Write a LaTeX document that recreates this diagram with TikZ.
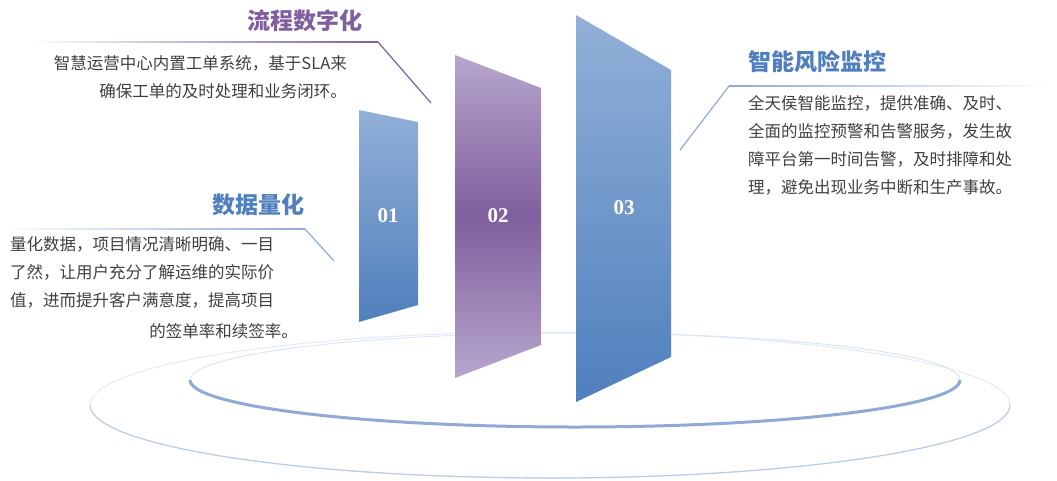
\documentclass[tikz,border=0pt]{standalone}
\usepackage{fontspec}
\setmainfont{Noto Sans CJK SC}
\newfontfamily\numfont{Liberation Serif}
\definecolor{bl}{HTML}{4F7FBD}
\definecolor{blL}{HTML}{92B0D8}
\definecolor{pu}{HTML}{7F5F9E}
\definecolor{puL}{HTML}{B6A6CC}
\definecolor{ring}{HTML}{8FAAD6}
\definecolor{txt}{HTML}{404040}
\begin{document}
\begin{tikzpicture}[x=1pt,y=-1pt,
  body/.style={font=\fontsize{16.5}{28}\selectfont,text=txt,inner sep=0},
  ttl/.style={font=\fontsize{23}{26}\selectfont\bfseries,inner sep=0},
  num/.style={font=\numfont\fontsize{21}{22}\selectfont\bfseries,text=white}]
\useasboundingbox (0,0) rectangle (1057,480);
% rings
\draw[ring!25,line width=1pt] (550,405) ellipse (460 and 73);
\draw[ring!30,line width=1pt] (575,380) ellipse (385 and 47);
\draw[ring,line width=3pt] (190,380) arc (180:0:385 and 47);
\draw[ring!60,line width=1.2pt] (90,405) arc (180:0:460 and 73);
% panels
\shade[top color=blL,bottom color=bl] (359,110) -- (418,122) -- (418,305) -- (359,322) -- cycle;
\shade[top color=puL,bottom color=puL,middle color=pu] (455,55) -- (541,88) -- (541,345) -- (455,378) -- cycle;
\shade[top color=blL,bottom color=bl] (576,15) -- (671,70) -- (671,357) -- (576,402) -- cycle;
\node[num] (n1) at (388,216) {01};
\node[num] (n2) at (498,216) {02};
\node[num] (n3) at (624,208) {03};
% 流程数字化
\node[ttl,text=pu,anchor=east] (t2) at (363,21) {流程数字化};
\coordinate (a2) at (378,42); \coordinate (a3) at (431,103);
\draw[pu,line width=1.2pt] (a2) -- (a3);
\shade[left color=white,right color=pu] (30,41.4) rectangle (378,42.6);
\node[body,anchor=east,align=right] (b2) at (347,77) {智慧运营中心内置工单系统，基于SLA来\\确保工单的及时处理和业务闭环。};
% 数据量化
\node[ttl,text=bl,anchor=east] (t1) at (305,205) {数据量化};
\coordinate (c2) at (305,229); \coordinate (c3) at (334,261);
\draw[ring,line width=1.2pt] (c2) -- (c3);
\shade[left color=white,right color=ring] (0,228.4) rectangle (305,229.6);
\node[body,anchor=north west,align=left] (b1) at (10,236) {量化数据，项目情况清晰明确、一目\\了然，让用户充分了解运维的实际价\\值，进而提升客户满意度，提高项目};
\node[body,anchor=east] (b1b) at (298,331) {的签单率和续签率。};
% 智能风险监控
\node[ttl,text=bl,anchor=west] (t3) at (748,62) {智能风险监控};
\coordinate (d1) at (680,150); \coordinate (d2) at (729,86);
\draw[ring,line width=1.2pt] (d1) -- (d2);
\shade[left color=ring,right color=white] (729,85.4) rectangle (1050,86.6);
\node[body,anchor=north west,align=left] (b3) at (748,95) {全天侯智能监控，提供准确、及时、\\全面的监控预警和告警服务，发生故\\障平台第一时间告警，及时排障和处\\理，避免出现业务中断和生产事故。};
\end{tikzpicture}
\end{document}
